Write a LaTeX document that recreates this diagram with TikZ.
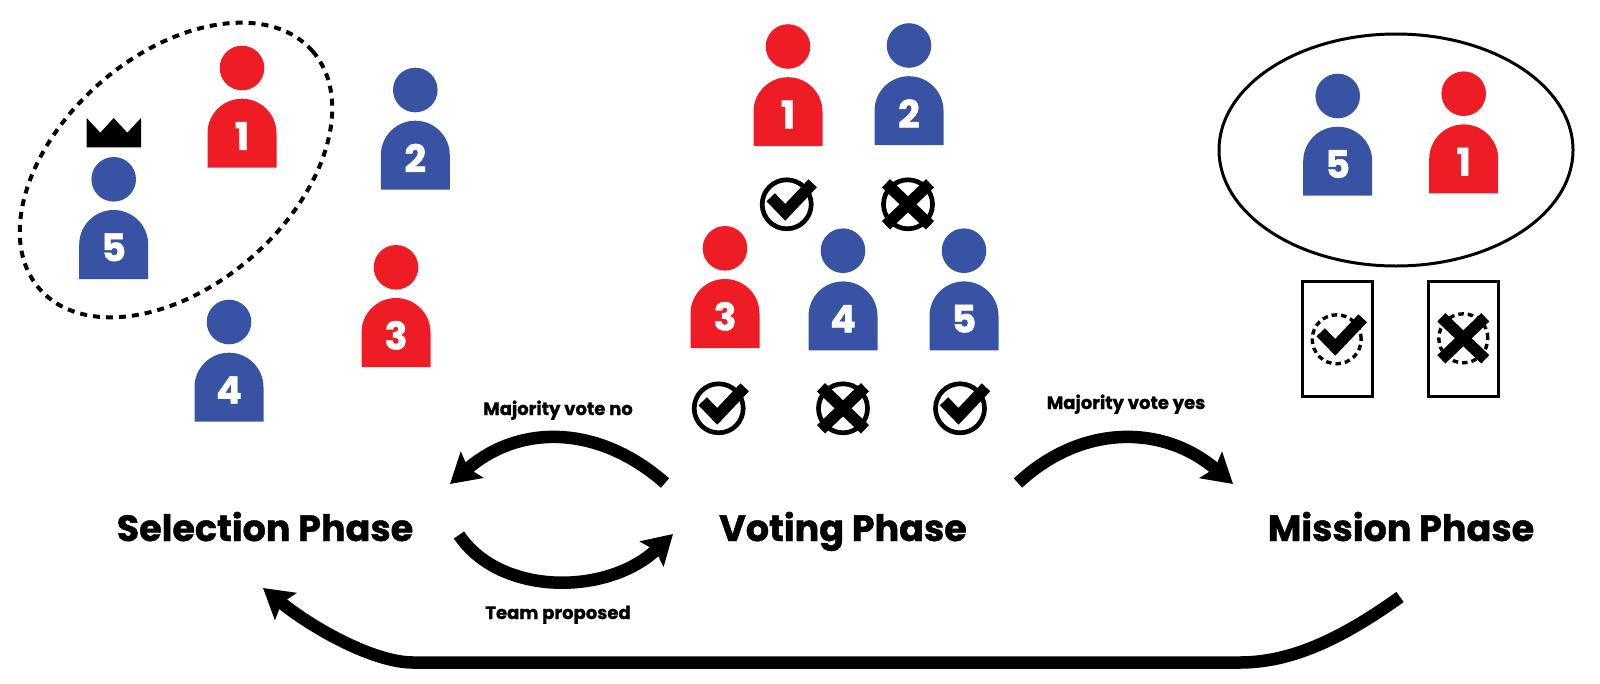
\documentclass[tikz,border=0pt]{standalone}
\usepackage{fontspec}
\setmainfont{Poppins}[BoldFeatures={FakeBold=1.2}]
\usetikzlibrary{arrows.meta}
\definecolor{teamred}{HTML}{EE1C25}
\definecolor{teamblue}{HTML}{3953A4}

\begin{document}
\begin{tikzpicture}[x=1pt,y=-1pt,
    bigarrow/.style={line width=12.5pt, -{Stealth[length=29pt,width=34pt,inset=5pt]}},
    phase/.style={anchor=base, inner sep=0pt, font=\fontsize{36.5}{40}\selectfont\bfseries},
    arrowlabel/.style={anchor=base, inner sep=0pt, font=\fontsize{18}{20}\selectfont\bfseries},
    number/.style={text=white, inner sep=0pt, font=\fontsize{38}{40}\selectfont\bfseries},
    votering/.style={draw=black, line width=4.7pt},
    cardring/.style={draw=black, line width=3.4pt, dash pattern=on 5.5pt off 4pt},
    votemark/.style={draw=black, line width=11.6pt, miter limit=10},
    pics/person/.style 2 args={code={
        \fill[#1] (0,0) circle (22.3pt);
        \fill[#1] (-34.5,99.7) -- (-34.5,65.2) arc[start angle=180,end angle=0,radius=34.5pt] -- (34.5,99.7) -- cycle;
        \node[number] (-num) at (0,68) {#2};
    }},
    pics/yes/.style={code={
        \draw[#1] (0,0) circle (24.5pt);
        \draw[votemark] (-16,-7) -- (-1.5,8) -- (26,-21);
    }},
    pics/no/.style={code={
        \draw[#1] (0,0) circle (24.5pt);
        \draw[votemark] (-22,-21) -- (22,21);
        \draw[votemark] (-22,21) -- (22,-21);
    }}
]
    \useasboundingbox (0,0) rectangle (1600,683);

    % selection phase
    \draw[line width=4pt, dash pattern=on 7pt off 6pt] (176,170) ellipse[x radius=181pt, y radius=115.5pt, rotate=41];
    \fill[black] (86.7,118) -- (100.3,132.7) -- (113.7,118) -- (127.3,132.7) -- (141,118) -- (141,147.3) -- (86.7,147.3) -- cycle;
    \pic (sel1) at (242,68) {person={teamred}{1}};
    \pic (sel2) at (415.3,90) {person={teamblue}{2}};
    \pic (sel3) at (396,267.3) {person={teamred}{3}};
    \pic (sel4) at (229,322) {person={teamblue}{4}};
    \pic (sel5) at (113.7,179.3) {person={teamblue}{5}};

    % voting phase
    \pic (vot1) at (788,46.5) {person={teamred}{1}};
    \pic (vot2) at (909,45.5) {person={teamblue}{2}};
    \pic (vot3) at (725,248.3) {person={teamred}{3}};
    \pic (vot4) at (843,250.7) {person={teamblue}{4}};
    \pic (vot5) at (964,250.7) {person={teamblue}{5}};
    \pic (ballot1) at (786.7,204.3) {yes=votering};
    \pic (ballot2) at (908,204.3) {no=votering};
    \pic (ballot3) at (718.7,408.3) {yes=votering};
    \pic (ballot4) at (843,408.3) {no=votering};
    \pic (ballot5) at (960,408.3) {yes=votering};

    % mission phase
    \draw[line width=3pt] (1396,150) ellipse[x radius=177pt, y radius=116pt];
    \pic (mis5) at (1337.7,96) {person={teamblue}{5}};
    \pic (mis1) at (1463.7,93.7) {person={teamred}{1}};
    \draw[line width=3pt] (1302.7,281) rectangle (1372.7,396);
    \draw[line width=3pt] (1428.7,281) rectangle (1498.7,396);
    \pic (card1) at (1336.7,339.3) {yes=cardring};
    \pic (card2) at (1463.3,338.3) {no=cardring};

    % phase names
    \node[phase] (selection) at (265,541) {Selection Phase};
    \node[phase] (voting) at (843,541) {Voting Phase};
    \node[phase] (mission) at (1401,541) {Mission Phase};
    \node[arrowlabel] (votedno) at (558,415) {Majority vote no};
    \node[arrowlabel] (proposed) at (558,619) {Team proposed};
    \node[arrowlabel] (votedyes) at (1126,409) {Majority vote yes};

    % arrows between phases
    \coordinate (no from) at (665,483);
    \coordinate (no to) at (450,484);
    \coordinate (team from) at (459,535);
    \coordinate (team to) at (673,534);
    \coordinate (yes from) at (1018,483);
    \coordinate (yes to) at (1233,484);
    \coordinate (back from) at (1400,597);
    \coordinate (back right) at (1240,662.5);
    \coordinate (back left) at (413,662.5);
    \coordinate (back to) at (263,588);
    \draw[bigarrow] (no from) .. controls (598,424) and (519,424) .. (no to);
    \draw[bigarrow] (team from) .. controls (500,596) and (607,596) .. (team to);
    \draw[bigarrow] (yes from) .. controls (1081,424) and (1163,424) .. (yes to);
    \draw[bigarrow] (back from) .. controls (1340,640) and (1290,662.5) .. (back right) -- (back left) .. controls (375,662.5) and (315,630) .. (back to);
\end{tikzpicture}
\end{document}
